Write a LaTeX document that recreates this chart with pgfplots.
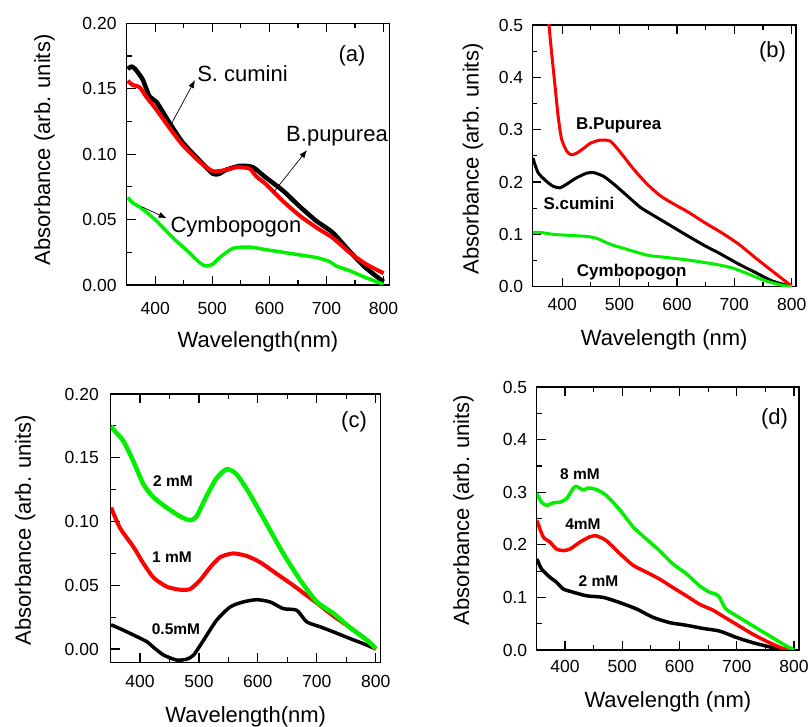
\documentclass[border=0pt]{standalone}
\usepackage{fontspec}
\setmainfont{Liberation Sans}
\usepackage{pgfplots}
\pgfplotsset{compat=1.18}
\usetikzlibrary{arrows.meta}

\definecolor{cred}{RGB}{255,0,0}
\definecolor{cgreen}{RGB}{0,240,0}

\pgfplotsset{
  spec/.style={
    scale only axis, anchor=south west,
    xtick={400,500,600,700,800},
    xticklabels={400,500,600,700,800},
    minor x tick num=1, minor y tick num=1,
    tick align=inside,
    xtick pos=both, ytick pos=left,
    major tick length=9pt, minor tick length=5pt,
    axis line style={line width=1.3pt},
    tick style={black, line width=1.2pt},
    minor tick style={black, line width=1.2pt},
    tick label style={font=\fontsize{17.5}{20}\selectfont, inner sep=0pt},
    label style={font=\fontsize{22}{26}\selectfont, inner sep=0pt},
    ylabel={Absorbance (arb. units)},
    every axis plot/.append style={line join=round, smooth, tension=0.4},
  }
}

\begin{document}
\begin{tikzpicture}
\useasboundingbox (0pt,0pt) rectangle (809pt,726pt);

% ---------- (a)
\begin{axis}[spec, at={(126.7pt,441pt)}, width=262.6pt, height=261.7pt,
  xmin=350, xmax=810, ymin=0, ymax=0.2,
  ytick={0,0.05,0.1,0.15,0.2}, yticklabels={0.00,0.05,0.10,0.15,0.20},
  xticklabel style={anchor=north, yshift=-16.7pt},
  yticklabel style={anchor=east, xshift=-10pt},
  xlabel={Wavelength(nm)},
  xlabel style={at={(axis description cs:0.5,-0.218)}, anchor=center},
  ylabel style={at={(axis description cs:-0.313,0.516)}, anchor=center}]
\addplot[black, line width=4.5pt] coordinates {
 (352,0.165)(358,0.167)(365,0.165)(378,0.157)(390,0.144)(402,0.140)(425,0.124)
 (448,0.109)(478,0.095)(501,0.085)(512,0.085)(524,0.088)(548,0.091)(571,0.090)
 (594,0.082)(624,0.072)(653,0.060)(682,0.049)(711,0.040)(740,0.026)(769,0.013)(800,0.0025)};
\addplot[cred, line width=4pt] coordinates {
 (352,0.156)(360,0.153)(373,0.151)(384,0.144)(402,0.134)(425,0.120)(448,0.107)
 (478,0.094)(501,0.087)(524,0.088)(542,0.090)(565,0.089)(577,0.083)(594,0.077)
 (624,0.064)(653,0.053)(682,0.044)(711,0.036)(740,0.025)(769,0.016)(800,0.009)};
\addplot[cgreen, line width=3.5pt] coordinates {
 (352,0.067)(360,0.063)(378,0.058)(402,0.049)(431,0.036)(454,0.027)(478,0.017)
 (489,0.0145)(501,0.016)(513,0.021)(536,0.028)(565,0.029)(594,0.027)(624,0.025)
 (653,0.023)(682,0.021)(705,0.018)(717,0.0145)(740,0.011)(769,0.0056)(800,0.0005)};
\end{axis}

% ---------- (b)
\begin{axis}[spec, at={(532.3pt,439.3pt)}, width=263.7pt, height=261.7pt,
  xmin=348, xmax=807.5, ymin=0, ymax=0.5,
  ytick={0,0.1,0.2,0.3,0.4,0.5}, yticklabels={0.0,0.1,0.2,0.3,0.4,0.5},
  xticklabel style={anchor=north, yshift=-11.3pt},
  yticklabel style={anchor=east, xshift=-9pt},
  xlabel={Wavelength (nm)},
  xlabel style={at={(axis description cs:0.5,-0.204)}, anchor=center},
  ylabel style={at={(axis description cs:-0.225,0.488)}, anchor=center}]
\addplot[black, line width=3pt] coordinates {
 (349,0.246)(358,0.218)(372,0.202)(384,0.192)(396,0.189)(408,0.196)(425,0.208)
 (443,0.217)(455,0.218)(472,0.211)(490,0.196)(514,0.173)(537,0.151)(561,0.135)
 (590,0.116)(619,0.097)(649,0.078)(672,0.065)(708,0.043)(737,0.027)(766,0.011)(800,0)};
\addplot[cred, line width=3pt] coordinates {
 (366,0.62)(372,0.55)(377,0.50)(381,0.454)(387,0.39)(393,0.326)(399,0.282)
 (408,0.259)(416,0.252)(425,0.255)(437,0.264)(449,0.274)(466,0.280)(484,0.278)
 (502,0.256)(525,0.224)(549,0.195)(572,0.173)(596,0.157)(619,0.143)(649,0.122)
 (678,0.103)(708,0.081)(737,0.055)(766,0.030)(800,0.001)};
\addplot[cgreen, line width=3pt] coordinates {
 (349,0.103)(361,0.104)(384,0.100)(414,0.098)(443,0.096)(461,0.092)(484,0.081)
 (514,0.071)(549,0.060)(572,0.057)(619,0.051)(666,0.043)(696,0.036)(725,0.024)
 (755,0.011)(784,0.0025)(800,0)};
\end{axis}

% ---------- (c)
\begin{axis}[spec, at={(110.7pt,63.7pt)}, width=270pt, height=268.3pt,
  xmin=350.3, xmax=808.5, ymin=-0.0104, ymax=0.2,
  ytick={0,0.05,0.1,0.15,0.2}, yticklabels={0.00,0.05,0.10,0.15,0.20},
  xticklabel style={anchor=north, yshift=-12.7pt},
  yticklabel style={anchor=east, xshift=-11.7pt},
  xlabel={Wavelength(nm)},
  xlabel style={at={(axis description cs:0.5,-0.204)}, anchor=center},
  ylabel style={at={(axis description cs:-0.317,0.493)}, anchor=center}]
\addplot[black, line width=3.5pt] coordinates {
 (351,0.019)(366,0.016)(389,0.011)(412,0.0057)(423,0.0013)(440,-0.0047)(462,-0.0086)
 (479,-0.008)(491,-0.0047)(508,0.007)(530,0.0226)(553,0.033)(575,0.0369)(598,0.0387)
 (621,0.0369)(643,0.0317)(666,0.0304)(683,0.0213)(706,0.0174)(728,0.0135)(756,0.0083)
 (785,0.0031)(800,0)};
\addplot[cred, line width=4pt] coordinates {
 (351,0.111)(366,0.095)(389,0.080)(406,0.067)(423,0.056)(445,0.049)(468,0.0465)
 (485,0.047)(502,0.054)(519,0.064)(536,0.072)(558,0.075)(581,0.073)(604,0.068)
 (632,0.059)(660,0.050)(683,0.042)(706,0.034)(728,0.026)(756,0.017)(785,0.007)(800,0)};
\addplot[cgreen, line width=4.5pt] coordinates {
 (351,0.175)(357,0.171)(372,0.163)(389,0.147)(406,0.129)(423,0.119)(445,0.111)
 (468,0.104)(485,0.101)(496,0.104)(513,0.120)(530,0.134)(547,0.141)(564,0.137)
 (587,0.121)(615,0.098)(643,0.075)(672,0.054)(700,0.037)(728,0.028)(756,0.017)
 (785,0.007)(800,0.0005)};
\end{axis}

% ---------- (d)
\begin{axis}[spec, at={(536.7pt,76pt)}, width=262.3pt, height=263pt,
  xmin=350.6, xmax=808.7, ymin=0, ymax=0.5,
  ytick={0,0.1,0.2,0.3,0.4,0.5}, yticklabels={0.0,0.1,0.2,0.3,0.4,0.5},
  xticklabel style={anchor=north, yshift=-10pt},
  yticklabel style={anchor=east, xshift=-9.4pt},
  xlabel={Wavelength (nm)},
  xlabel style={at={(axis description cs:0.5,-0.198)}, anchor=center},
  ylabel style={at={(axis description cs:-0.279,0.532)}, anchor=center}]
\addplot[black, line width=3.5pt] coordinates {
 (351,0.173)(359,0.154)(374,0.138)(385,0.129)(397,0.116)(414,0.110)(438,0.103)
 (467,0.100)(496,0.090)(525,0.078)(554,0.062)(583,0.052)(612,0.047)(641,0.041)
 (670,0.036)(699,0.024)(728,0.014)(757,0.006)(780,0.0006)(795,0)};
\addplot[cred, line width=3.5pt] coordinates {
 (351,0.246)(362,0.215)(374,0.205)(385,0.192)(397,0.189)(409,0.192)(426,0.205)
 (443,0.215)(455,0.217)(472,0.208)(496,0.183)(519,0.161)(542,0.148)(565,0.135)
 (588,0.119)(612,0.103)(635,0.087)(658,0.076)(670,0.068)(699,0.049)(728,0.030)
 (757,0.014)(780,0.003)(795,0)};
\addplot[cgreen, line width=3.5pt] coordinates {
 (351,0.297)(359,0.281)(368,0.275)(380,0.280)(391,0.281)(403,0.288)(414,0.307)
 (420,0.311)(432,0.304)(440,0.308)(455,0.305)(472,0.294)(496,0.266)(519,0.234)
 (542,0.211)(565,0.189)(588,0.164)(612,0.145)(635,0.122)(652,0.110)(664,0.106)
 (670,0.100)(681,0.078)(704,0.062)(728,0.046)(757,0.027)(786,0.008)(800,0)};
\end{axis}

% ---------- annotations
\begin{scope}[every node/.style={inner sep=0pt, anchor=center}]
 \def\big{\fontsize{22}{26}\selectfont}
 \def\bb{\fontsize{17}{20}\selectfont\bfseries}
 \def\bc{\fontsize{15.5}{18}\selectfont\bfseries}
 % (a)
 \node[font=\big] at (242.5pt,652.7pt) {S. cumini};
 \node[font=\big] at (337pt,590pt) {B.pupurea};
 \node[font=\big] at (236pt,499.3pt) {Cymbopogon};
 \node[font=\big] at (352pt,670pt) {(a)};
 \draw[-{Latex[length=8pt,width=6pt]}, line width=0.7pt] (171.7pt,602.7pt) -- (195pt,646pt);
 \draw[-{Latex[length=8pt,width=6pt]}, line width=0.7pt] (273pt,533pt) -- (307pt,576pt);
 \draw[-{Latex[length=8pt,width=6pt]}, line width=0.7pt] (141.7pt,519.3pt) -- (166.7pt,507.7pt);
 % (b)
 \node[font=\bb] at (618.7pt,601pt) {B.Pupurea};
 \node[font=\bb] at (579pt,522.7pt) {S.cumini};
 \node[font=\bb] at (631.7pt,454.3pt) {Cymbopogon};
 \node[font=\big] at (772.5pt,674pt) {(b)};
 % (c)
 \node[font=\bc] at (173pt,245pt) {2 mM};
 \node[font=\bc] at (172pt,168.5pt) {1 mM};
 \node[font=\bc] at (176pt,97pt) {0.5mM};
 \node[font=\big] at (354pt,304.5pt) {(c)};
 % (d)
 \node[font=\bc] at (580pt,252pt) {8 mM};
 \node[font=\bc] at (583pt,202pt) {4mM};
 \node[font=\bc] at (598.5pt,145pt) {2 mM};
 \node[font=\big] at (774.5pt,307pt) {(d)};
\end{scope}
\end{tikzpicture}
\end{document}
